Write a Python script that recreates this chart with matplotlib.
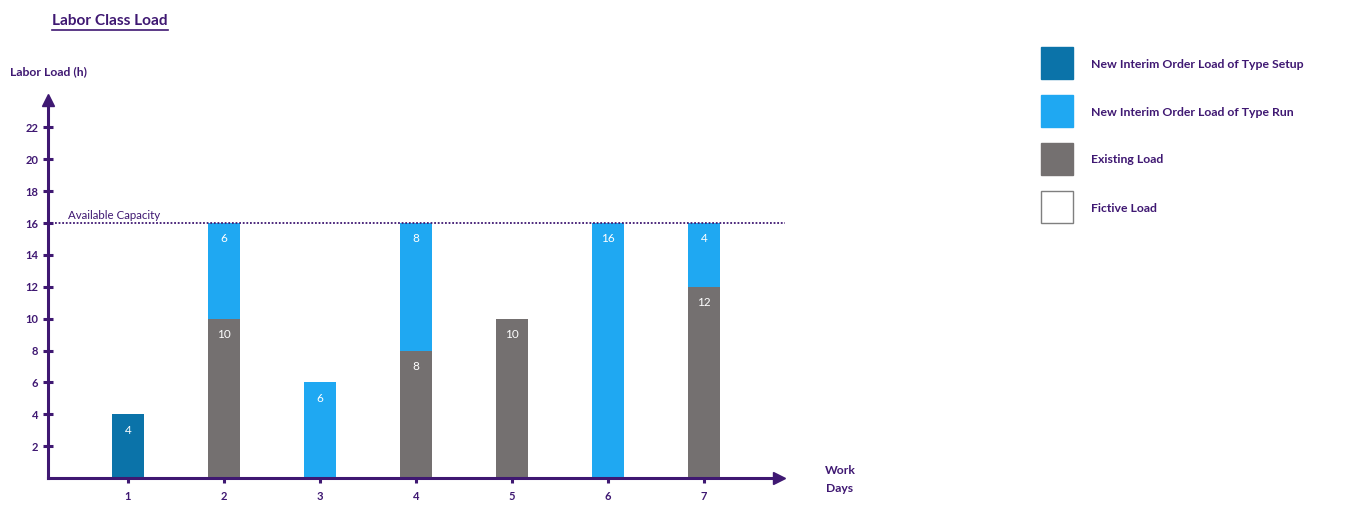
import matplotlib.pyplot as plt
from matplotlib.patches import Rectangle
from matplotlib.lines import Line2D
import numpy as np

# data
days = [1, 2, 3, 4, 5, 6, 7]
existing_load = [0, 10, 0, 8, 10, 0, 12]
setup_load = [4, 0, 0, 0, 0, 0, 0]
run_load = [0, 6, 6, 8, 0, 16, 4]
capacity = 16
yticks = [2, 4, 6, 8, 10, 12, 14, 16, 18, 20, 22]

legend_names = ['New Interim Order Load of Type Setup',
                'New Interim Order Load of Type Run',
                'Existing Load',
                'Fictive Load']

PURPLE = '#3f1872'
C_SETUP = '#0b73a9'
C_RUN = '#1fa8f2'
C_EXIST = '#747070'
legend_colors = [C_SETUP, C_RUN, C_EXIST, 'white']

plt.rcParams['font.family'] = ['Lato', 'DejaVu Sans']

W, H = 1361, 509
fig = plt.figure(figsize=(W / 100, H / 100), dpi=100)

def fx(px):
    return px / W

def fy(py):
    return 1 - py / H

# axes placed by pixel box of the reference
ax = fig.add_axes([fx(48), fy(478), fx(779) - fx(48), fy(100) - fy(478)])
ax.set_xlim(0.1667, 7.78)
ax.set_ylim(0, 23.72)

w = 0.333
bottom = np.zeros(len(days))
for vals, col in [(existing_load, C_EXIST), (setup_load, C_SETUP), (run_load, C_RUN)]:
    vals = np.array(vals, dtype=float)
    ax.bar(days, vals, width=w, bottom=bottom, color=col, zorder=2)
    for d, v, b in zip(days, vals, bottom):
        if v > 0:
            ax.text(d, b + v - 1, f'{int(v)}', color='white', ha='center',
                    va='center', fontsize=8.5, zorder=3)
    bottom += vals

# capacity line
ax.plot([0.24, 7.84], [capacity, capacity], color=PURPLE, ls=(0, (1, 1)),
        lw=1.3, zorder=4, clip_on=False)
ax.text(0.37, capacity + 0.1, 'Available Capacity', color=PURPLE,
        fontsize=8.3, ha='left', va='bottom')

for s in ['top', 'right']:
    ax.spines[s].set_visible(False)
for s in ['left', 'bottom']:
    ax.spines[s].set_color(PURPLE)
    ax.spines[s].set_linewidth(2.2)
    ax.spines[s].set_zorder(5)

# arrow heads
ax.plot(1, 0, marker='>', color=PURPLE, markersize=8, transform=ax.transAxes,
        clip_on=False, zorder=6)
ax.plot(0, 1, marker='^', color=PURPLE, markersize=8, transform=ax.transAxes,
        clip_on=False, zorder=6)

ax.set_xticks(days)
ax.set_xticklabels([str(d) for d in days])
ax.set_yticks(yticks)
ax.set_yticklabels([str(t) for t in yticks])
ax.tick_params(axis='both', direction='inout', length=7, width=2.2,
               color=PURPLE, labelcolor=PURPLE, labelsize=8)
ax.tick_params(axis='y', pad=3.5)
ax.tick_params(axis='x', pad=6)
for lab in ax.get_xticklabels() + ax.get_yticklabels():
    lab.set_fontweight('bold')

# titles and axis labels
t = fig.text(fx(52), fy(21), 'Labor Class Load', color=PURPLE, fontsize=11.1,
             fontweight='bold', ha='left', va='center')
fig.text(fx(10), fy(72), 'Labor Load (h)', color=PURPLE, fontsize=8.7,
         fontweight='bold', ha='left', va='center')
fig.text(fx(840), fy(470), 'Work', color=PURPLE, fontsize=8.7,
         fontweight='bold', ha='center', va='center')
fig.text(fx(840), fy(488), 'Days', color=PURPLE, fontsize=8.7,
         fontweight='bold', ha='center', va='center')

# underline under title
fig.canvas.draw()
bb = t.get_window_extent().transformed(fig.transFigure.inverted())
fig.add_artist(Line2D([bb.x0, bb.x1], [fy(30), fy(30)], color=PURPLE,
                      lw=1.2, transform=fig.transFigure))

# legend drawn manually
for i, (name, col) in enumerate(zip(legend_names, legend_colors)):
    top = 47 + 48 * i
    ec = col if col != 'white' else '#7f7f7f'
    fig.add_artist(Rectangle((fx(1041), fy(top + 32)), fx(32), 32 / H,
                             facecolor=col, edgecolor=ec, lw=1,
                             transform=fig.transFigure))
    fig.text(fx(1091), fy(top + 17), name, color=PURPLE, fontsize=8.8,
             fontweight='bold', ha='left', va='center')

fig.savefig('out.png', dpi=100)
